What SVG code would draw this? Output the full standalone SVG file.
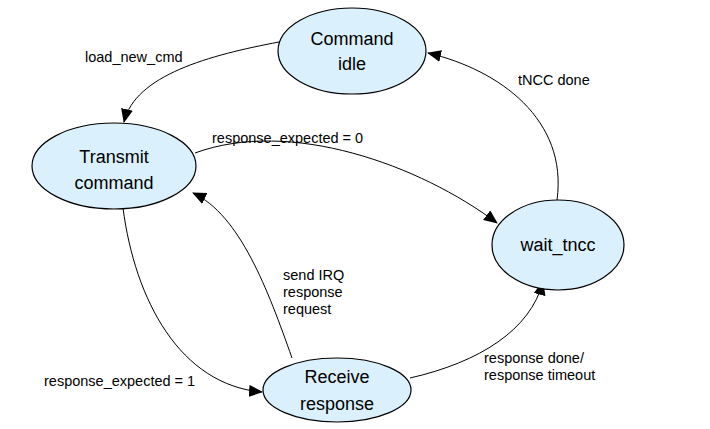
<svg xmlns="http://www.w3.org/2000/svg" width="710" height="429" viewBox="0 0 710 429">
<style>
.st{fill:#daf0fd;stroke:#000;stroke-width:1.2}
.nt{font-family:"Liberation Sans",Arial,sans-serif;font-size:18px;fill:#000;text-anchor:middle}
.lb{font-family:"Liberation Sans",Arial,sans-serif;font-size:14.5px;fill:#000}
.e{fill:none;stroke:#000;stroke-width:1}
</style>
<defs>
<marker id="ah" markerWidth="14" markerHeight="12" refX="13" refY="6" orient="auto" markerUnits="userSpaceOnUse">
<path d="M0,0 L14,6 L0,12 Z" fill="#000"/>
</marker>
</defs>
<rect width="710" height="429" fill="#fff"/>
<g id="connectors">
<path class="e" marker-end="url(#ah)" d="M279,42 C210,55 135,75 124,122"/>
<path class="e" marker-end="url(#ah)" d="M195,153 C290,118 420,165 497,223"/>
<path class="e" marker-end="url(#ah)" d="M557,200 C568,120 500,70 428,53"/>
<path class="e" marker-end="url(#ah)" d="M292,358 C268,290 240,215 193,193"/>
<path class="e" marker-end="url(#ah)" d="M123,208 C135,300 180,385 262,392"/>
<path class="e" marker-end="url(#ah)" d="M410,378 C480,362 530,330 543,282"/>
</g>
<g id="n_idle">
<ellipse class="st" cx="352" cy="51" rx="74" ry="43"/>
<text class="nt" x="352" y="45">Command</text>
<text class="nt" x="352" y="70">idle</text>
</g>
<g id="n_transmit">
<ellipse class="st" cx="114" cy="166" rx="82" ry="43"/>
<text class="nt" x="114" y="163">Transmit</text>
<text class="nt" x="114" y="189">command</text>
</g>
<g id="n_wait">
<ellipse class="st" cx="558" cy="245" rx="66" ry="45"/>
<text class="nt" x="558" y="251">wait_tncc</text>
</g>
<g id="n_receive">
<ellipse class="st" cx="337" cy="390" rx="74" ry="32"/>
<text class="nt" x="337" y="383">Receive</text>
<text class="nt" x="337" y="410">response</text>
</g>
<g id="labels">
<text class="lb" x="85" y="62">load_new_cmd</text>
<text class="lb" x="212" y="143">response_expected = 0</text>
<text class="lb" x="518" y="85">tNCC done</text>
<text class="lb" x="283" y="280">send IRQ</text>
<text class="lb" x="283" y="297">response</text>
<text class="lb" x="283" y="314">request</text>
<text class="lb" x="44" y="386">response_expected = 1</text>
<text class="lb" x="484" y="363">response done/</text>
<text class="lb" x="484" y="380">response timeout</text>
</g>
</svg>
